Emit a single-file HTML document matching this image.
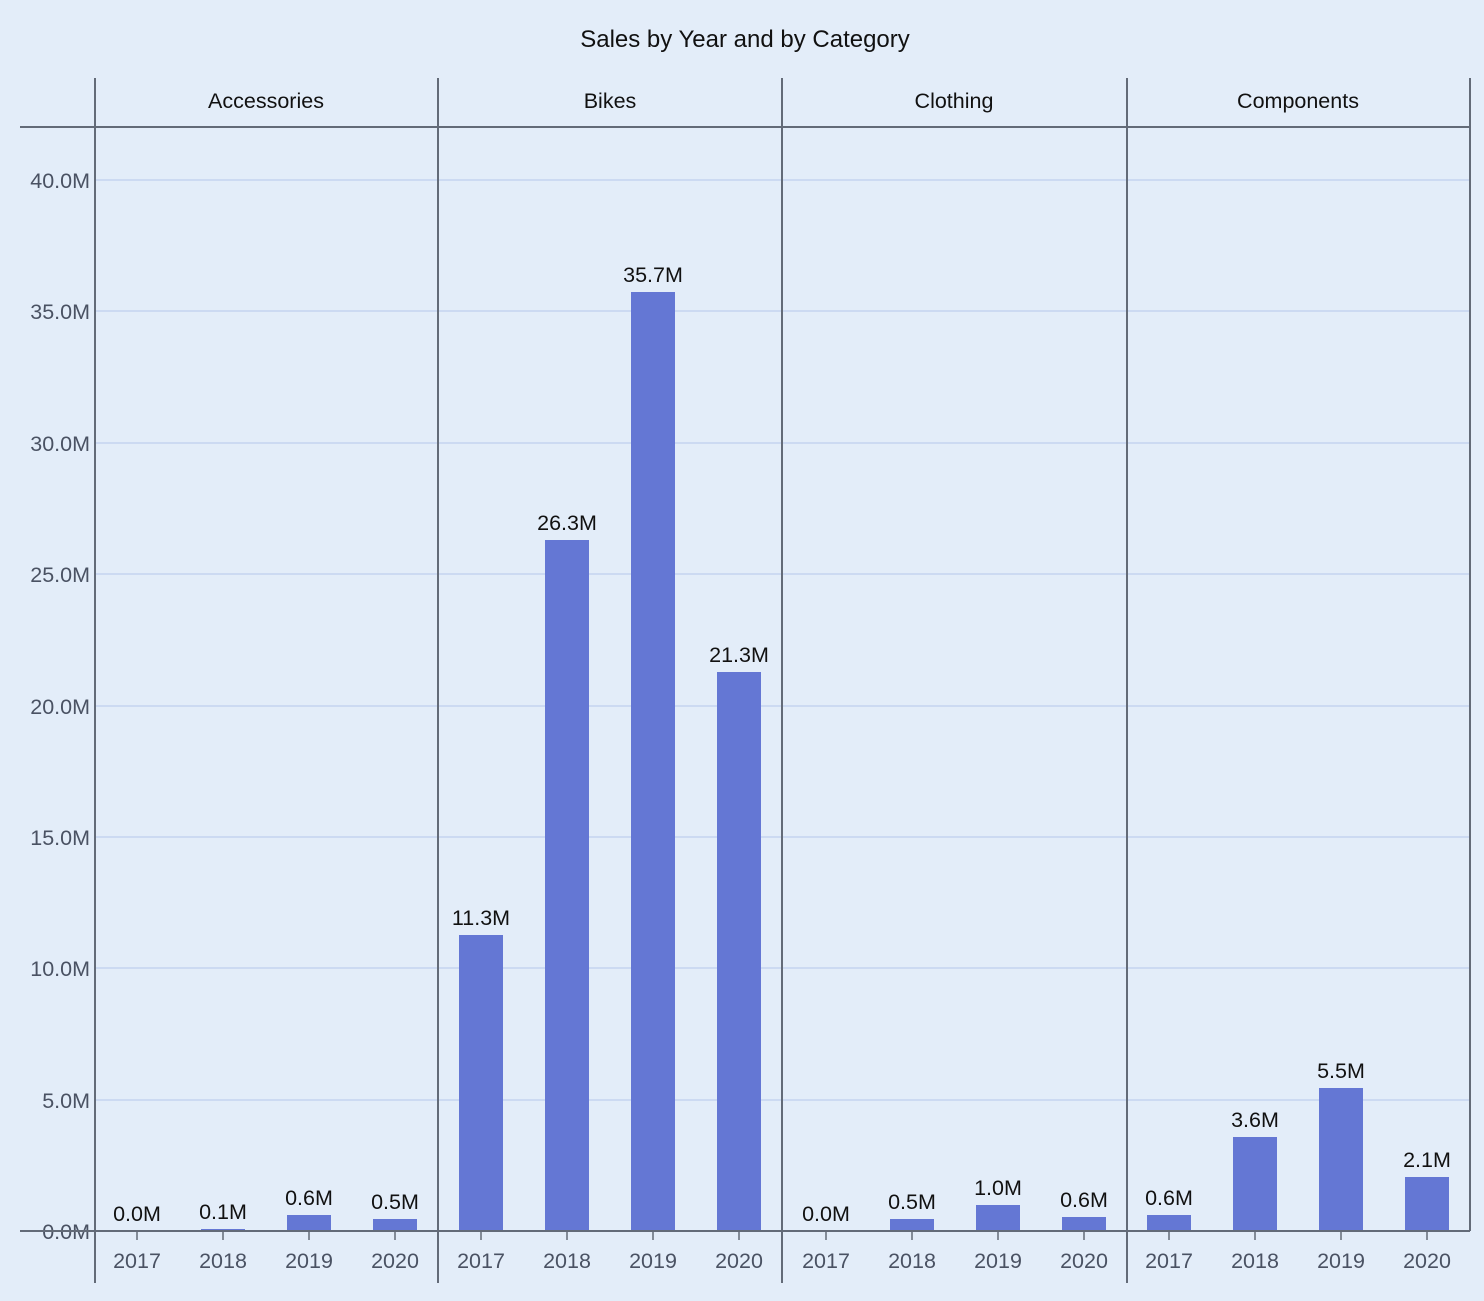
<!DOCTYPE html>
<html><head><meta charset="utf-8"><style>
html,body{margin:0;padding:0;background:#e3edf9;}
svg{display:block;font-family:"Liberation Sans",Arial,sans-serif;}
</style></head><body>
<svg width="1484" height="1301" viewBox="0 0 1484 1301">
<rect width="1484" height="1301" fill="#e3edf9"/>
<text x="745" y="47" font-size="24" text-anchor="middle" fill="#111">Sales by Year and by Category</text>
<g stroke="#c5d4f0" stroke-width="1.5">
<line x1="95" x2="1470" y1="180" y2="180"/><line x1="95" x2="1470" y1="311" y2="311"/>
<line x1="95" x2="1470" y1="443" y2="443"/><line x1="95" x2="1470" y1="574" y2="574"/>
<line x1="95" x2="1470" y1="706" y2="706"/><line x1="95" x2="1470" y1="837" y2="837"/>
<line x1="95" x2="1470" y1="968" y2="968"/><line x1="95" x2="1470" y1="1100" y2="1100"/>
</g>
<g font-size="21.5" fill="#4a5263" text-anchor="end">
<text x="90" y="188">40.0M</text><text x="90" y="319">35.0M</text><text x="90" y="451">30.0M</text>
<text x="90" y="582">25.0M</text><text x="90" y="714">20.0M</text><text x="90" y="845">15.0M</text>
<text x="90" y="976">10.0M</text><text x="90" y="1108">5.0M</text><text x="90" y="1239">0.0M</text>
</g>
<g fill="#6477d4">
<rect x="115" y="1230" width="44" height="1"/><rect x="201" y="1229" width="44" height="2"/>
<rect x="287" y="1215" width="44" height="16"/><rect x="373" y="1219" width="44" height="12"/>
<rect x="459" y="935" width="44" height="296"/><rect x="545" y="540" width="44" height="691"/>
<rect x="631" y="292" width="44" height="939"/><rect x="717" y="672" width="44" height="559"/>
<rect x="890" y="1219" width="44" height="12"/><rect x="976" y="1205" width="44" height="26"/>
<rect x="1062" y="1217" width="44" height="14"/>
<rect x="1147" y="1215" width="44" height="16"/><rect x="1233" y="1137" width="44" height="94"/>
<rect x="1319" y="1088" width="44" height="143"/><rect x="1405" y="1177" width="44" height="54"/>
</g>
<g font-size="21.5" fill="#111" text-anchor="middle">
<text x="137" y="1221">0.0M</text><text x="223" y="1219">0.1M</text><text x="309" y="1205">0.6M</text><text x="395" y="1209">0.5M</text>
<text x="481" y="925">11.3M</text><text x="567" y="530">26.3M</text><text x="653" y="282">35.7M</text><text x="739" y="662">21.3M</text>
<text x="826" y="1221">0.0M</text><text x="912" y="1209">0.5M</text><text x="998" y="1195">1.0M</text><text x="1084" y="1207">0.6M</text>
<text x="1169" y="1205">0.6M</text><text x="1255" y="1127">3.6M</text><text x="1341" y="1078">5.5M</text><text x="1427" y="1167">2.1M</text>
</g>
<g stroke="#636b78" stroke-width="2">
<line x1="20" x2="1470" y1="127" y2="127"/>
<line x1="20" x2="1470" y1="1231" y2="1231"/>
<line x1="95" x2="95" y1="78" y2="1283"/><line x1="438" x2="438" y1="78" y2="1283"/>
<line x1="782" x2="782" y1="78" y2="1283"/><line x1="1127" x2="1127" y1="78" y2="1283"/>
<line x1="1470" x2="1470" y1="78" y2="1231"/>
<g stroke-width="1.5">
<line x1="137" x2="137" y1="1231" y2="1240"/><line x1="223" x2="223" y1="1231" y2="1240"/><line x1="309" x2="309" y1="1231" y2="1240"/><line x1="395" x2="395" y1="1231" y2="1240"/>
<line x1="481" x2="481" y1="1231" y2="1240"/><line x1="567" x2="567" y1="1231" y2="1240"/><line x1="653" x2="653" y1="1231" y2="1240"/><line x1="739" x2="739" y1="1231" y2="1240"/>
<line x1="826" x2="826" y1="1231" y2="1240"/><line x1="912" x2="912" y1="1231" y2="1240"/><line x1="998" x2="998" y1="1231" y2="1240"/><line x1="1084" x2="1084" y1="1231" y2="1240"/>
<line x1="1169" x2="1169" y1="1231" y2="1240"/><line x1="1255" x2="1255" y1="1231" y2="1240"/><line x1="1341" x2="1341" y1="1231" y2="1240"/><line x1="1427" x2="1427" y1="1231" y2="1240"/>
</g>
</g>
<g font-size="21.5" fill="#4a5263" text-anchor="middle">
<text x="137" y="1268">2017</text><text x="223" y="1268">2018</text><text x="309" y="1268">2019</text><text x="395" y="1268">2020</text>
<text x="481" y="1268">2017</text><text x="567" y="1268">2018</text><text x="653" y="1268">2019</text><text x="739" y="1268">2020</text>
<text x="826" y="1268">2017</text><text x="912" y="1268">2018</text><text x="998" y="1268">2019</text><text x="1084" y="1268">2020</text>
<text x="1169" y="1268">2017</text><text x="1255" y="1268">2018</text><text x="1341" y="1268">2019</text><text x="1427" y="1268">2020</text>
</g>
<g font-size="21.5" fill="#111" text-anchor="middle">
<text x="266" y="108">Accessories</text><text x="610" y="108">Bikes</text>
<text x="954" y="108">Clothing</text><text x="1298" y="108">Components</text>
</g>
</svg>
</body></html>
